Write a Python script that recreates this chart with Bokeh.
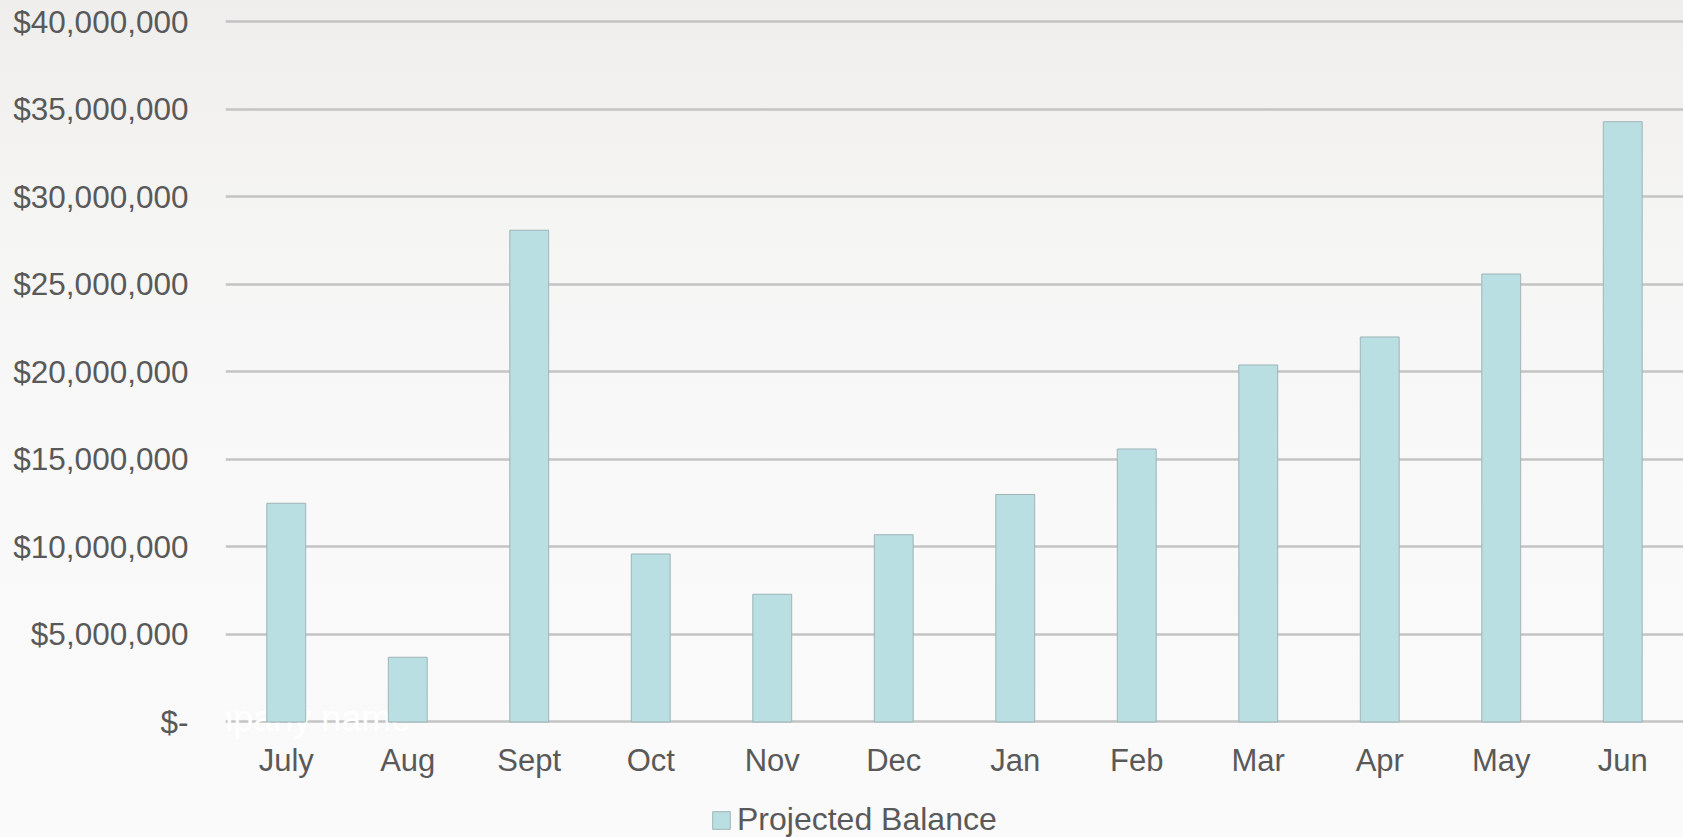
from bokeh.plotting import figure
from bokeh.models import (FactorRange, Range1d, FixedTicker, NumeralTickFormatter,
                          Legend, LegendItem, Label, ColumnDataSource)
from bokeh.embed import file_html
from bokeh.resources import INLINE

# Monthly projected balance, fiscal year July -> June
months = ["July", "Aug", "Sept", "Oct", "Nov", "Dec",
          "Jan", "Feb", "Mar", "Apr", "May", "Jun"]
balance = [12_500_000, 3_700_000, 28_100_000, 9_600_000, 7_300_000, 10_700_000,
           13_000_000, 15_600_000, 20_400_000, 22_000_000, 25_600_000, 34_300_000]

y_ticks = [0, 5_000_000, 10_000_000, 15_000_000, 20_000_000,
           25_000_000, 30_000_000, 35_000_000, 40_000_000]
y_tick_labels = ["$-", "$5,000,000", "$10,000,000", "$15,000,000", "$20,000,000",
                 "$25,000,000", "$30,000,000", "$35,000,000", "$40,000,000"]

series_name = "Projected Balance"
watermark = "Your company name"

FONT = "Liberation Sans"
TEXT_COLOR = "#595959"
BAR_FILL = "#badfe2"
BAR_LINE = "#9fb4b7"
GRID_COLOR = "#c4c4c4"

source = ColumnDataSource(data=dict(month=months, balance=balance))

# the frame runs down to the bottom edge so the legend can sit inside it;
# the category axis is pinned to the zero line
p = figure(
    x_range=FactorRange(*months, range_padding=0),
    y_range=Range1d(-6_600_000, 40_371_000),
    frame_width=1458, frame_height=822,
    min_border_left=225, min_border_right=0,
    min_border_top=15, min_border_bottom=0,
    output_backend="svg", toolbar_location=None,
)

# transparent canvas so the soft page gradient shows through
p.background_fill_alpha = 0
p.border_fill_alpha = 0
p.outline_line_color = None
p.styles = {"background": "linear-gradient(to bottom, #efeeec 0%, #f5f5f4 28%, #f9f9f9 60%, #fafafa 100%)"}

company = Label(x=-143, y=119, x_units="screen", y_units="screen", text=watermark,
                text_font=FONT, text_font_size="36px", text_color="white",
                text_baseline="middle", text_align="left", level="underlay")
p.add_layout(company)

bars = p.vbar(x="month", top="balance", bottom=0, width=0.32, source=source,
              fill_color=BAR_FILL, line_color=BAR_LINE, line_width=1)

# y axis
p.yaxis.ticker = FixedTicker(ticks=y_ticks)
p.yaxis.formatter = NumeralTickFormatter(format="$0,0")
p.yaxis.major_label_overrides = dict(zip(y_ticks, y_tick_labels))
p.yaxis.axis_line_color = None
p.yaxis.major_tick_line_color = None
p.yaxis.minor_tick_line_color = None
p.yaxis.major_tick_out = 0
p.yaxis.major_label_standoff = 37
p.yaxis.major_label_text_font = FONT
p.yaxis.major_label_text_font_size = "31.5px"
p.yaxis.major_label_text_color = TEXT_COLOR

# x axis
p.xaxis.fixed_location = 0
p.xaxis.axis_line_color = None
p.xaxis.major_tick_line_color = None
p.xaxis.major_tick_out = 0
p.xaxis.major_label_standoff = 21
p.xaxis.major_label_text_font = FONT
p.xaxis.major_label_text_font_size = "31px"
p.xaxis.major_label_text_color = TEXT_COLOR

# grid
p.xgrid.grid_line_color = None
p.ygrid.ticker = FixedTicker(ticks=y_ticks)
p.ygrid.bounds = (0, 40_000_000)
p.ygrid.grid_line_color = GRID_COLOR
p.ygrid.grid_line_width = 2.5

legend = Legend(items=[LegendItem(label=series_name, renderers=[bars])],
                location=(485, -1), orientation="horizontal",
                glyph_width=22, glyph_height=22, label_standoff=5,
                padding=0, margin=0, spacing=0,
                border_line_color=None, background_fill_alpha=0,
                label_text_font=FONT, label_text_font_size="32px",
                label_text_color=TEXT_COLOR)
p.add_layout(legend)

open("out.html", "w").write(file_html(p, INLINE))
